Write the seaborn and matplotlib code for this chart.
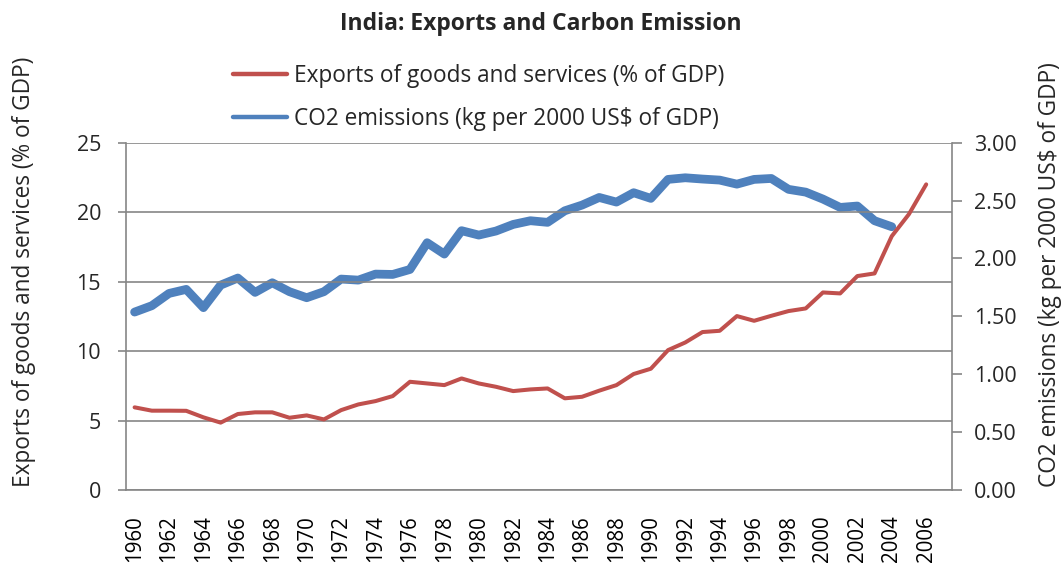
import matplotlib
matplotlib.use("Agg")
import matplotlib.pyplot as plt
import seaborn as sns
import pandas as pd
from matplotlib.lines import Line2D
from matplotlib.ticker import MultipleLocator, FixedLocator, FuncFormatter

years = list(range(1960, 2007))
exports = [5.95, 5.71, 5.71, 5.70, 5.23, 4.85, 5.47, 5.59, 5.59, 5.20,
           5.37, 5.08, 5.75, 6.16, 6.40, 6.76, 7.79, 7.67, 7.55, 8.03,
           7.67, 7.43, 7.12, 7.24, 7.31, 6.60, 6.71, 7.15, 7.55, 8.35,
           8.73, 10.07, 10.62, 11.37, 11.46, 12.52, 12.18, 12.54, 12.88, 13.07,
           14.22, 14.15, 15.40, 15.59, 18.27, 19.86, 22.00]
co2_years = list(range(1960, 2005))
co2 = [1.537, 1.592, 1.698, 1.733, 1.575, 1.770, 1.831, 1.707, 1.790, 1.713,
       1.661, 1.713, 1.822, 1.813, 1.865, 1.862, 1.905, 2.136, 2.038, 2.240,
       2.202, 2.237, 2.294, 2.326, 2.312, 2.412, 2.461, 2.527, 2.487, 2.568,
       2.519, 2.683, 2.697, 2.686, 2.677, 2.642, 2.683, 2.691, 2.597, 2.573,
       2.513, 2.441, 2.453, 2.326, 2.274]

title = "India: Exports and Carbon Emission"
exp_label = "Exports of goods and services (% of GDP)"
co2_label = "CO2 emissions (kg per 2000 US\\$ of GDP)"

sns.set_theme(style="white")
plt.rcParams['font.family'] = ['Open Sans', 'DejaVu Sans']

RED = "#C0504D"
BLUE = "#4F81BD"
GRID = "#868686"
FS = 15.5

fig = plt.figure(figsize=(10.63, 5.69), dpi=100)
ax = fig.add_axes([126/1063, 1-490/569, (952-126)/1063, (490-142.7)/569])
ax2 = ax.twinx()

df_e = pd.DataFrame({"year": years, "v": exports})
df_c = pd.DataFrame({"year": co2_years, "v": co2})

sns.lineplot(data=df_c, x="year", y="v", ax=ax2, color=BLUE, linewidth=6.3,
             legend=False, solid_capstyle="round", solid_joinstyle="round")
sns.lineplot(data=df_e, x="year", y="v", ax=ax, color=RED, linewidth=2.9,
             legend=False, solid_joinstyle="round")
ax.set_zorder(ax2.get_zorder() + 1)
ax.patch.set_visible(False)

ax.set_xlim(1959.5, 2007.5)
ax.set_ylim(0, 25)
ax2.set_ylim(0, 3.0)
ax.yaxis.set_major_locator(MultipleLocator(5))
ax2.yaxis.set_major_locator(MultipleLocator(0.5))
ax2.yaxis.set_major_formatter(FuncFormatter(lambda v, p: f"{v:.2f}"))

ax.xaxis.set_major_locator(FixedLocator(list(range(1960, 2007, 2))))
ax.xaxis.set_minor_locator(FixedLocator([1959.5 + k for k in range(49)]))
ax.set_xticklabels([str(y) for y in range(1960, 2007, 2)], rotation=90)

ax.grid(axis="y", color=GRID, linewidth=1.2)
ax.set_axisbelow(True)
ax2.grid(False)

for a in (ax, ax2):
    for s in a.spines.values():
        s.set_visible(False)
ax.spines["left"].set_visible(True)
ax.spines["bottom"].set_visible(True)
ax2.spines["right"].set_visible(True)
for s in (ax.spines["left"], ax.spines["bottom"], ax2.spines["right"]):
    s.set_color(GRID)
    s.set_linewidth(1.2)

ax.tick_params(axis="x", which="major", length=0, labelsize=14.8, pad=18, colors="black")
ax.tick_params(axis="x", which="minor", length=6, width=1.2, color=GRID, direction="out")
ax.tick_params(axis="y", length=6, width=1.2, color=GRID, labelsize=FS, left=True, pad=12)
ax2.tick_params(axis="y", length=7, width=1.2, color=GRID, labelsize=FS, right=True, pad=9)

ax.set_xlabel("")
ax.set_ylabel("")
ax2.set_ylabel("")
fig.text(24/1063, 1-487/569, exp_label, rotation=90, ha="center", va="bottom", fontsize=FS + 0.8)
fig.text(1050/1063, 1-487/569, co2_label, rotation=90, ha="center", va="bottom", fontsize=FS + 0.8)

fig.text(541/1063, 1-24/569, title, ha="center", va="center", fontsize=16.5, fontweight="bold")

handles = [Line2D([], [], color=RED, linewidth=3.2), Line2D([], [], color=BLUE, linewidth=3.2)]
fig.legend(handles, [exp_label, co2_label], loc="upper left", bbox_to_anchor=(224/1063, 1-55/569),
           frameon=False, fontsize=16.3, handlelength=2.4, handletextpad=0.3,
           labelspacing=0.85, borderaxespad=0)

fig.savefig("out.png", dpi=100, facecolor="white")
